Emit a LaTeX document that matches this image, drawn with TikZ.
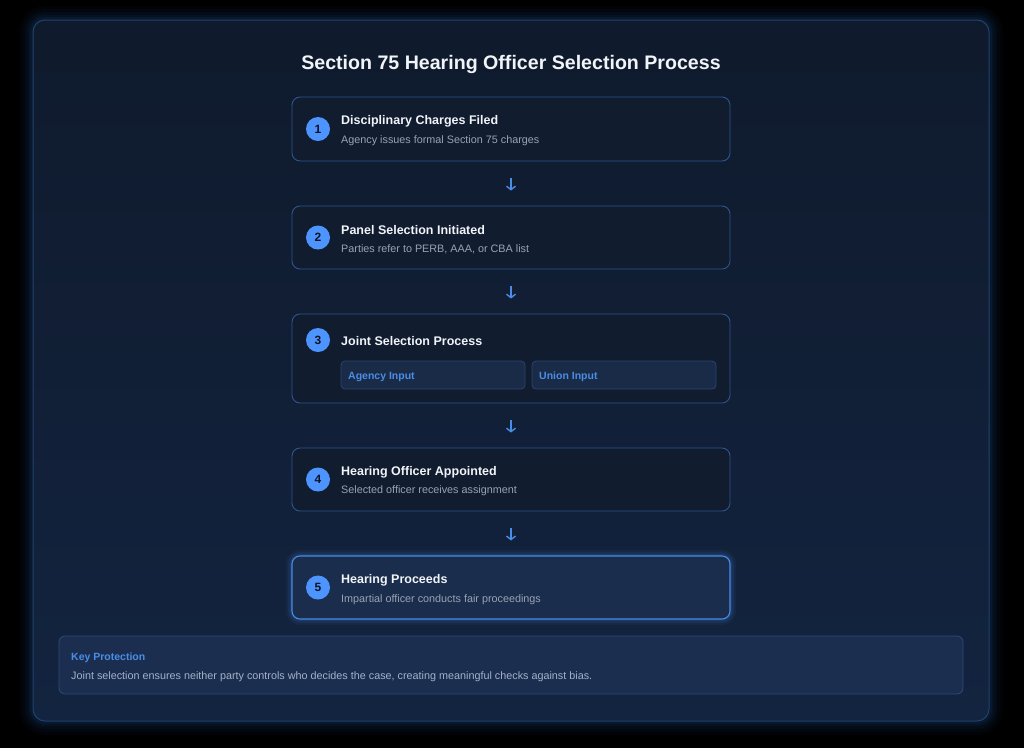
\documentclass[tikz,border=0pt]{standalone}
\usepackage{fontspec}
\setmainfont{Liberation Sans}
\usetikzlibrary{arrows.meta}
\definecolor{pagebg}{HTML}{000000}
\definecolor{panelbg}{HTML}{0F1A2C}
\definecolor{panelbot}{HTML}{132440}
\definecolor{panelline}{HTML}{22416C}
\definecolor{glow}{HTML}{1E4A8C}
\definecolor{stepbg}{HTML}{111C2F}
\definecolor{stepline}{HTML}{2E5590}
\definecolor{hotbg}{HTML}{1B2D4D}
\definecolor{hotline}{HTML}{4A8AE8}
\definecolor{circ}{HTML}{4D94FF}
\definecolor{numc}{HTML}{0B1422}
\definecolor{titlec}{HTML}{F1F4F8}
\definecolor{subc}{HTML}{98A3B3}
\definecolor{inbg}{HTML}{1A2B47}
\definecolor{inline}{HTML}{2A4570}
\definecolor{accent}{HTML}{4A8DE6}
\definecolor{keybg}{HTML}{1B2E50}
\definecolor{keyline}{HTML}{2C4A7A}
\definecolor{keytext}{HTML}{A3B2C7}
\tikzset{
  stepbox/.style={draw=stepline, line width=0.9pt, fill=stepbg, rounded corners=8pt, minimum width=438pt, inner sep=0pt},
  hotbox/.style={stepbox, draw=hotline, fill=hotbg, line width=1.1pt},
  num/.style={circle, fill=circ, minimum size=24pt, inner sep=0pt, text=numc, font=\fontsize{12}{14}\selectfont\bfseries},
  steptitle/.style={anchor=west, inner sep=0pt, text=titlec, font=\fontsize{12.5}{15}\selectfont\bfseries},
  stepsub/.style={anchor=west, inner sep=0pt, text=subc, font=\fontsize{10.8}{13}\selectfont},
  inbox/.style={draw=inline, line width=0.8pt, fill=inbg, rounded corners=4pt, minimum width=184pt, minimum height=28pt, inner sep=0pt},
  intext/.style={anchor=west, inner sep=0pt, text=accent, font=\fontsize{10.5}{12}\selectfont\bfseries},
  flow/.style={draw=accent, line width=1.4pt, -{Straight Barb[length=3.5pt,width=9pt]}},
}
\begin{document}
\begin{tikzpicture}[x=1pt,y=-1pt]
\fill[pagebg] (0,0) rectangle (1024,748);
\useasboundingbox (0,0) rectangle (1024,748);
% glow around panel
\foreach \g/\o in {14/0.05,11/0.06,8/0.08,5/0.10,3/0.12} {
  \fill[glow, opacity=\o, rounded corners=12pt+\g pt] (33-\g,20-\g) rectangle (989+\g,721+\g);
}
\shade[rounded corners=12pt, top color=panelbg, bottom color=panelbot] (33,20) rectangle (989,721);
\draw[panelline, line width=1pt, rounded corners=12pt] (33,20) rectangle (989,721);
% title
\node[text=titlec, font=\fontsize{19.6}{24}\selectfont\bfseries] (title) at (511,64.5) {Section 75 Hearing Officer Selection Process};
% steps
\node[stepbox, minimum height=64pt] (b1) at (511,129) {};
\node[stepbox, minimum height=63pt] (b2) at (511,237.5) {};
\node[stepbox, minimum height=89pt] (b3) at (511,358.5) {};
\node[stepbox, minimum height=63pt] (b4) at (511,479.5) {};
% glow box5
\foreach \g/\o in {6/0.06,4/0.09,2/0.12} {
  \fill[hotline, opacity=\o, rounded corners=8pt+\g pt] (292-\g,556-\g) rectangle (730+\g,619+\g);
}
\node[hotbox, minimum height=63pt] (b5) at (511,587.5) {};
% numbers
\node[num] (n1) at (318,129) {1};
\node[num] (n2) at (318,237.5) {2};
\node[num] (n3) at (318,340) {3};
\node[num] (n4) at (318,479.5) {4};
\node[num] (n5) at (318,587.5) {5};
% texts
\node[steptitle] (t1) at (341,121.5) {Disciplinary Charges Filed};
\node[stepsub] (s1) at (341,141) {Agency issues formal Section 75 charges};
\node[steptitle] (t2) at (341,230) {Panel Selection Initiated};
\node[stepsub] (s2) at (341,249) {Parties refer to PERB, AAA, or CBA list};
\node[steptitle] (t3) at (341,341.5) {Joint Selection Process};
\node[inbox] (ia) at (433,375) {};
\node[inbox] (iu) at (624,375) {};
\node[intext] (ta) at (348,376.5) {Agency Input};
\node[intext] (tu) at (539,376.5) {Union Input};
\node[steptitle] (t4) at (341,472.5) {Hearing Officer Appointed};
\node[stepsub] (s4) at (341,491) {Selected officer receives assignment};
\node[steptitle] (t5) at (341,580.5) {Hearing Proceeds};
\node[stepsub] (s5) at (341,599.5) {Impartial officer conducts fair proceedings};
% arrows
\draw[flow, shorten <=17pt, shorten >=15pt] (b1.south) -- (b2.north);
\draw[flow, shorten <=17pt, shorten >=15pt] (b2.south) -- (b3.north);
\draw[flow, shorten <=17pt, shorten >=15pt] (b3.south) -- (b4.north);
\draw[flow, shorten <=17pt, shorten >=15pt] (b4.south) -- (b5.north);
% key protection
\node[draw=keyline, line width=0.8pt, fill=keybg, rounded corners=6pt, minimum width=904pt, minimum height=58pt, inner sep=0pt] (key) at (511,665) {};
\node[anchor=west, inner sep=0pt, text=accent, font=\fontsize{10.5}{12}\selectfont\bfseries] (kh) at (71,657.5) {Key Protection};
\node[anchor=west, inner sep=0pt, text=keytext, font=\fontsize{10.8}{13}\selectfont] (kt) at (71,677) {Joint selection ensures neither party controls who decides the case, creating meaningful checks against bias.};
\end{tikzpicture}
\end{document}
